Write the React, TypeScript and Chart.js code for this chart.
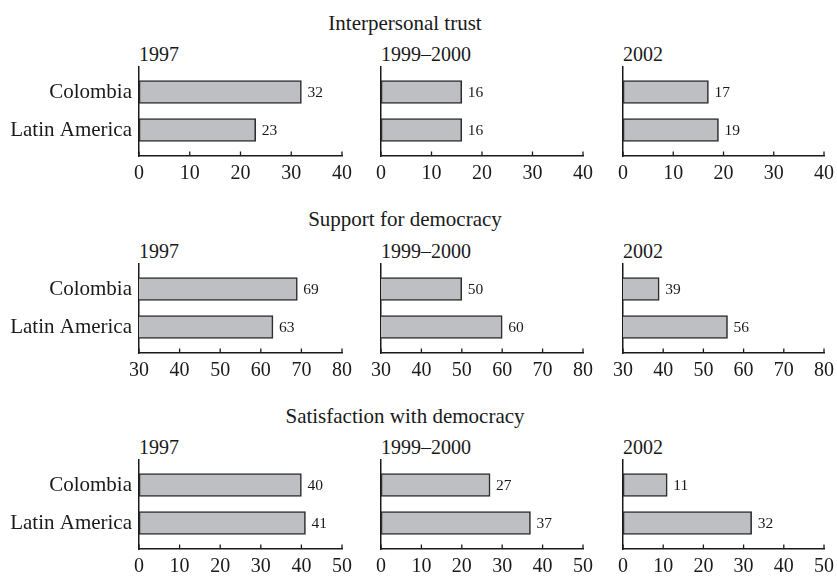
import React, { useEffect, useRef } from "react";
import { Chart, registerables } from "chart.js";

Chart.register(...registerables);

// ---- Data ----
const categories = ["Colombia", "Latin America"];
const periods = ["1997", "1999–2000", "2002"];
const sectionTitles = ["Interpersonal trust", "Support for democracy", "Satisfaction with democracy"];

// [Colombia, Latin America] per period
const trust1997 = [32, 23];
const trust1999 = [16, 16];
const trust2002 = [17, 19];

const support1997 = [69, 63];
const support1999 = [50, 60];
const support2002 = [39, 56];

const satisfaction1997 = [40, 41];
const satisfaction1999 = [27, 37];
const satisfaction2002 = [11, 32];

const trustAxis = { min: 0, max: 40, step: 10 };
const supportAxis = { min: 30, max: 80, step: 10 };
const satisfactionAxis = { min: 0, max: 50, step: 10 };

const sections = [
  { title: sectionTitles[0], axis: trustAxis, values: [trust1997, trust1999, trust2002] },
  { title: sectionTitles[1], axis: supportAxis, values: [support1997, support1999, support2002] },
  { title: sectionTitles[2], axis: satisfactionAxis, values: [satisfaction1997, satisfaction1999, satisfaction2002] },
];

// ---- Layout (pixels) ----
const FONT = '"Liberation Serif", "Times New Roman", serif';
const INK = "#1a1a1a";
const ROW_TOPS = [67, 263.5, 460];
const PLOT_H = 89;
const COL_LEFTS = [139, 381, 623];
const COL_WIDTHS = [203, 202, 201];
const Y_AXIS_W = 139;
const PAD_TOP = 20;
const PAD_RIGHT = 16;
const X_AXIS_H = 30;

const innerTicksPlugin = {
  id: "innerTicks",
  afterDraw(chart: any) {
    const { ctx, chartArea } = chart;
    const xs = chart.scales.x;
    ctx.save();
    ctx.strokeStyle = INK;
    ctx.lineWidth = 1.3;
    xs.ticks.forEach((t: any) => {
      const px = xs.getPixelForValue(t.value);
      ctx.beginPath();
      ctx.moveTo(px, chartArea.bottom);
      ctx.lineTo(px, chartArea.bottom - 4.5);
      ctx.stroke();
    });
    ctx.restore();
  },
};

const valueLabelPlugin = {
  id: "valueLabels",
  afterDatasetsDraw(chart: any) {
    const { ctx } = chart;
    const meta = chart.getDatasetMeta(0);
    const ds = chart.data.datasets[0];
    ctx.save();
    ctx.fillStyle = INK;
    ctx.font = `15.5px ${FONT}`;
    ctx.textAlign = "left";
    ctx.textBaseline = "middle";
    meta.data.forEach((el: any, i: number) => {
      ctx.fillText(String(ds.data[i].x), el.x + 6, el.y + 1);
    });
    ctx.restore();
  },
};

function Panel({ values, axis, showLabels, col, row }: any) {
  const ref = useRef<HTMLCanvasElement>(null);
  useEffect(() => {
    if (!ref.current) return;
    const chart = new Chart(ref.current, {
      type: "bar",
      data: {
        datasets: [
          {
            data: values.map((v: number, i: number) => ({ x: v, y: i })),
            backgroundColor: "#bebfc2",
            borderColor: "#2e2e2e",
            borderWidth: 1.6,
            borderSkipped: false,
            barThickness: 23,
          },
        ],
      },
      options: {
        animation: false,
        responsive: false,
        indexAxis: "y",
        devicePixelRatio: 1,
        layout: { padding: { top: PAD_TOP, right: PAD_RIGHT, left: 0, bottom: 0 } },
        plugins: { legend: { display: false }, tooltip: { enabled: false }, title: { display: false } },
        scales: {
          x: {
            type: "linear",
            min: axis.min,
            max: axis.max,
            offset: false,
            grid: { display: false, drawTicks: false, tickLength: 0 },
            border: { display: true, color: INK, width: 1.5 },
            ticks: {
              stepSize: axis.step,
              autoSkip: false,
              maxRotation: 0,
              padding: 6,
              color: INK,
              font: { family: FONT, size: 20 },
            },
            afterFit: (s: any) => {
              s.height = X_AXIS_H;
            },
          },
          y: {
            type: "linear",
            reverse: true,
            offset: false,
            min: -0.658,
            max: 1.684,
            grid: { display: false, drawTicks: false, tickLength: 0, offset: false },
            border: { display: true, color: INK, width: 1.5 },
            afterBuildTicks: (s: any) => {
              s.ticks = categories.map((_, i) => ({ value: i }));
            },
            ticks: {
              display: showLabels,
              padding: 7,
              color: INK,
              font: { family: FONT, size: 21 },
              callback: (v: any) => categories[v as number] ?? "",
            },
            afterFit: (s: any) => {
              s.width = Y_AXIS_W;
            },
          },
        },
      } as any,
      plugins: [innerTicksPlugin, valueLabelPlugin],
    });
    return () => chart.destroy();
  }, []);
  const w = Y_AXIS_W + COL_WIDTHS[col] + PAD_RIGHT;
  const h = PAD_TOP + PLOT_H + X_AXIS_H;
  return (
    <canvas
      ref={ref}
      width={w}
      height={h}
      style={{
        position: "absolute",
        left: COL_LEFTS[col] - Y_AXIS_W,
        top: ROW_TOPS[row] - PAD_TOP,
        width: w,
        height: h,
      }}
    />
  );
}

export default function App() {
  return (
    <div
      style={{
        position: "absolute",
        left: 0,
        top: 0,
        width: 837,
        height: 577,
        overflow: "hidden",
        background: "#fff",
        fontFamily: FONT,
        color: INK,
      }}
    >
      {sections.map((sec, r) => (
        <React.Fragment key={sec.title}>
          <div
            style={{
              position: "absolute",
              left: 205,
              width: 400,
              top: ROW_TOPS[r] - 54.5,
              textAlign: "center",
              fontSize: 21,
              lineHeight: "21px",
              whiteSpace: "nowrap",
            }}
          >
            {sec.title}
          </div>
          {periods.map((p, c) => (
            <div
              key={p}
              style={{
                position: "absolute",
                left: COL_LEFTS[c],
                top: ROW_TOPS[r] - 23,
                fontSize: 20,
                lineHeight: "20px",
                whiteSpace: "nowrap",
              }}
            >
              {p}
            </div>
          ))}
          {sec.values.map((vals, c) => (
            <Panel key={c} values={vals} axis={sec.axis} showLabels={c === 0} col={c} row={r} />
          ))}
        </React.Fragment>
      ))}
    </div>
  );
}
